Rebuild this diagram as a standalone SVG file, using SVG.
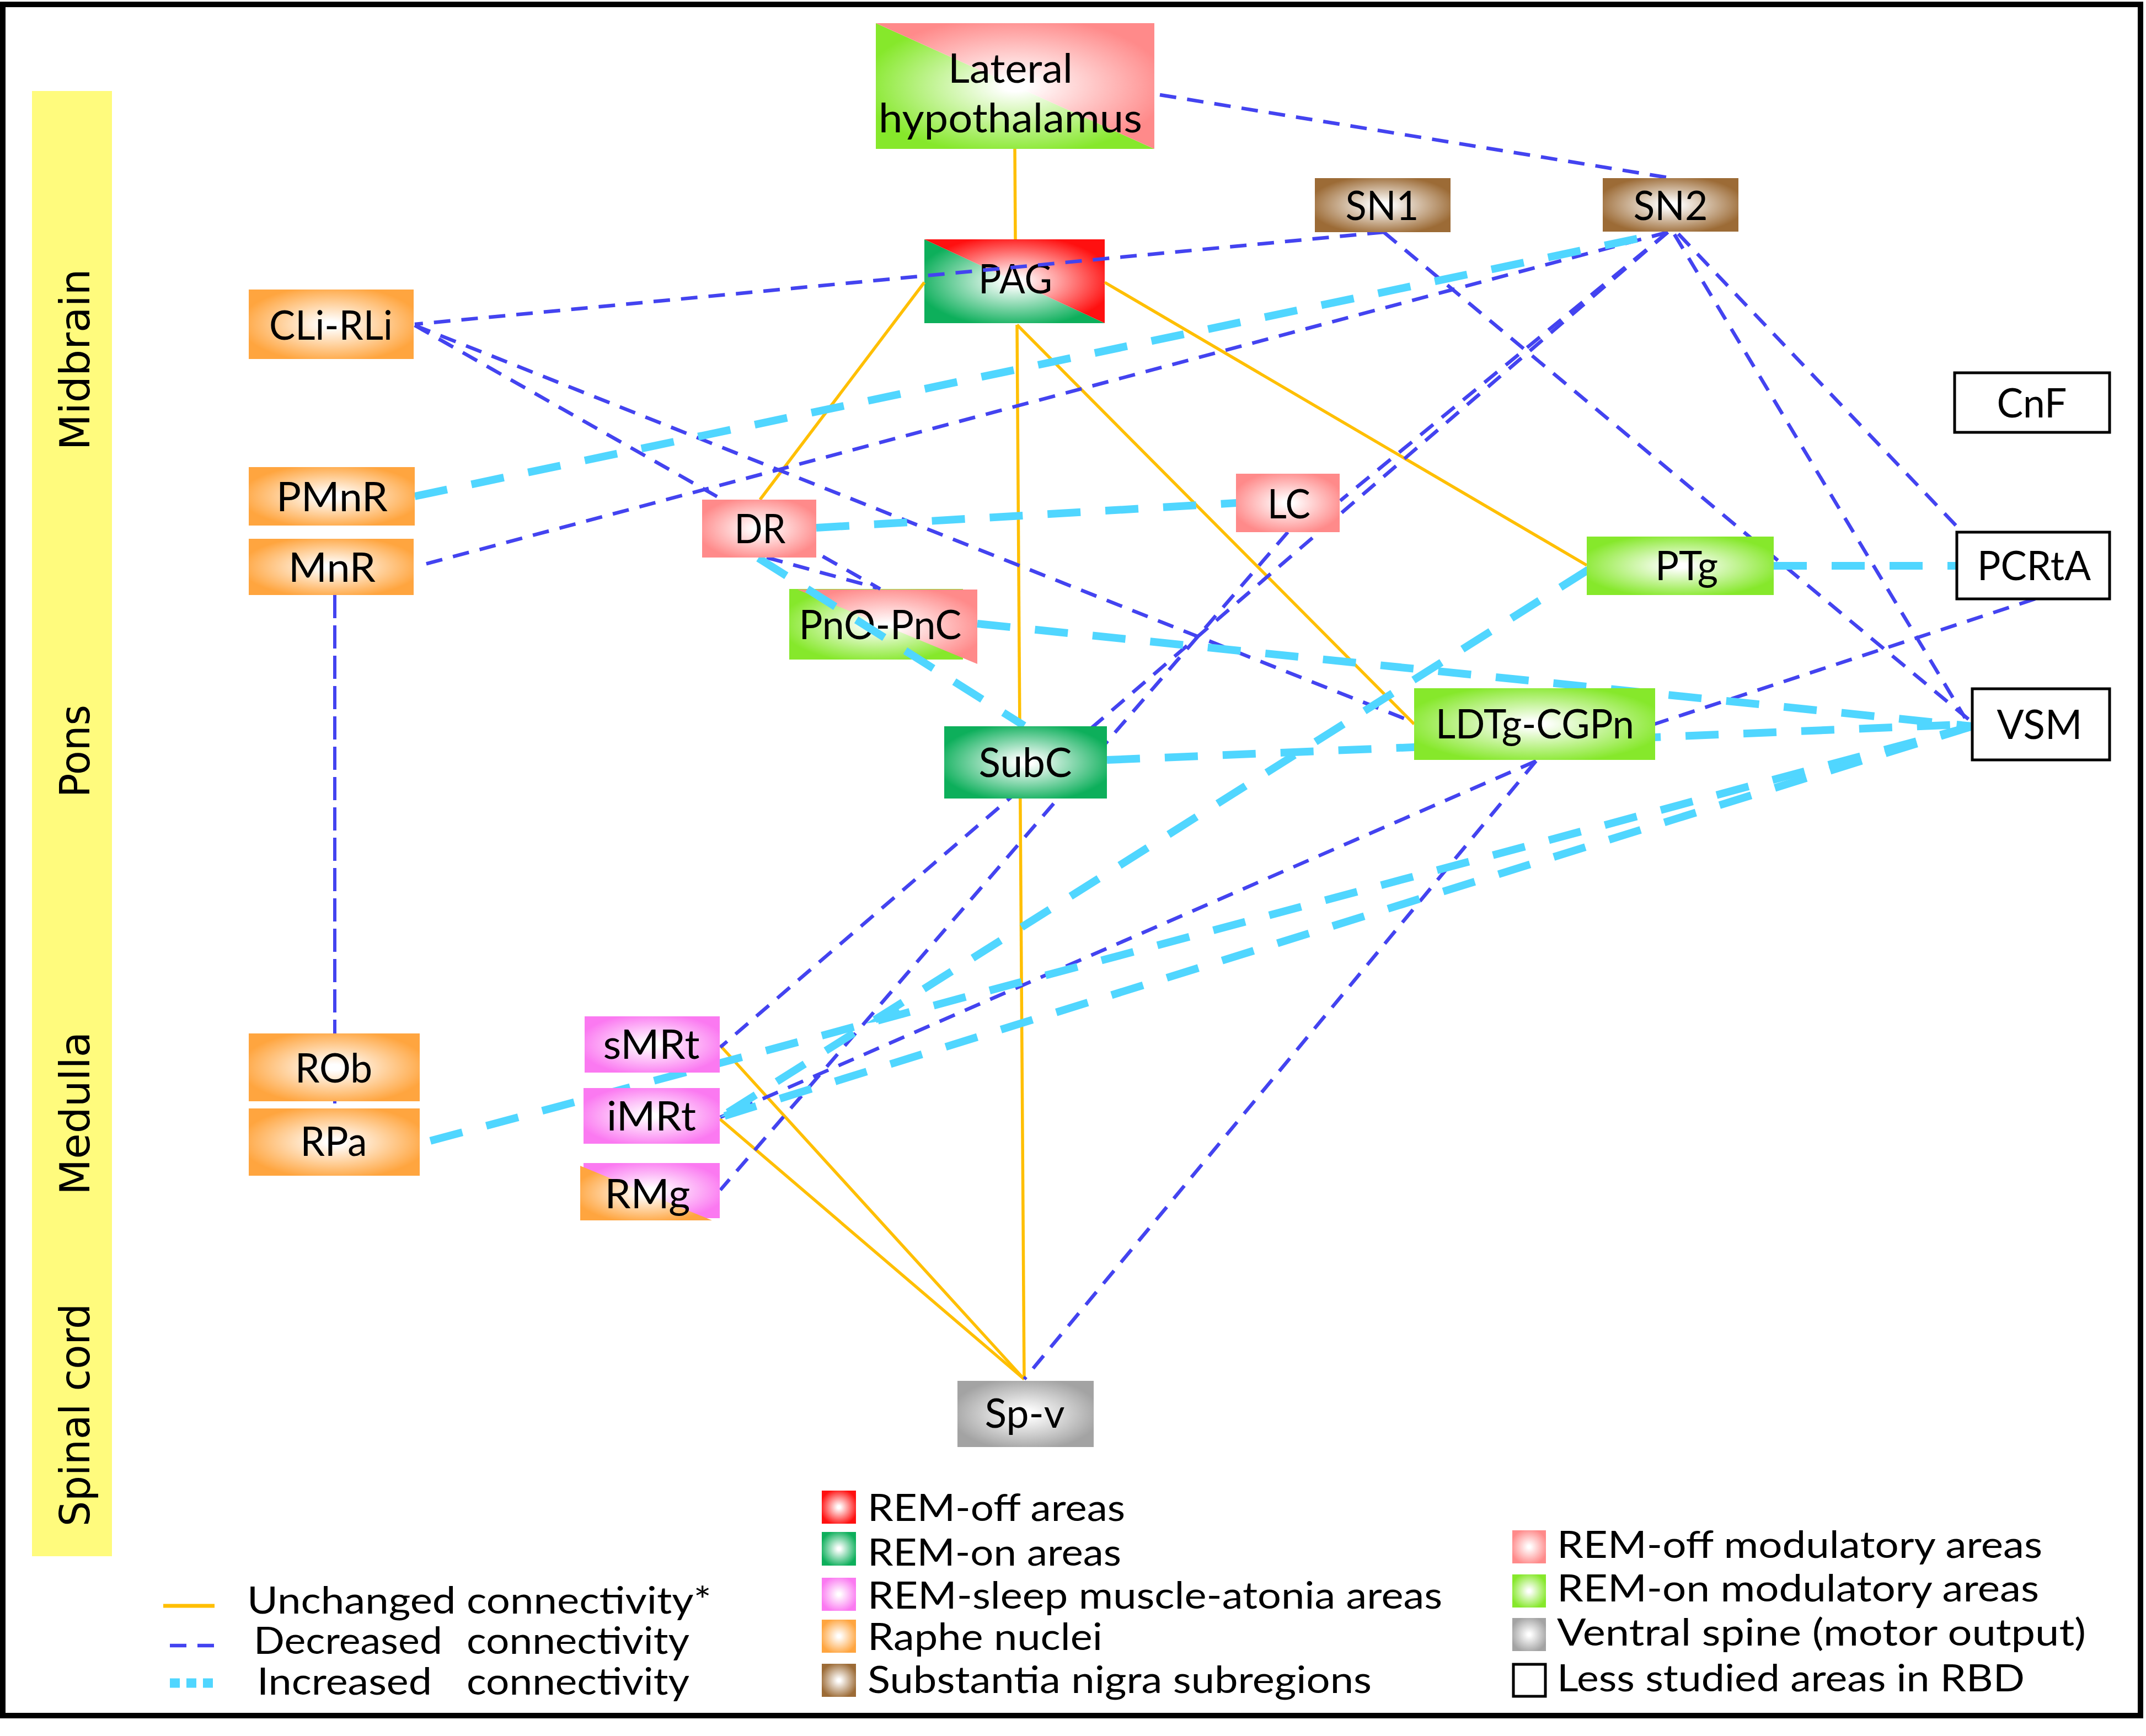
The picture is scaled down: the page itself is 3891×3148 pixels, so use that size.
<svg xmlns="http://www.w3.org/2000/svg" width="3891" height="3148" viewBox="0 0 3891 3148">
<style>
.lbl{font-family:Lato,'Open Sans','Liberation Sans',sans-serif;font-size:73px;fill:#000;text-anchor:middle}
.leg{font-family:Lato,'Open Sans','Liberation Sans',sans-serif;font-size:68px;fill:#000}
.reg{font-family:'DejaVu Sans','Liberation Sans',sans-serif;font-size:75px;fill:#000;text-anchor:middle}
.o{stroke:#FFBF00;stroke-width:5.5;fill:none}
.b{stroke:#4343F0;stroke-width:6.5;stroke-dasharray:30 20;fill:none}
.bl{stroke:#4343F0;stroke-width:6;stroke-dasharray:42 13;fill:none}
.c{stroke:#50D6FF;stroke-width:14;stroke-dasharray:60 45;fill:none}
.wb{fill:#fff;stroke:#000;stroke-width:5}
</style>
<defs>
<radialGradient id="gOr" cx="0.5" cy="0.5" r="0.55"><stop offset="0.08" stop-color="#fff"/><stop offset="1" stop-color="#FFA53F"/></radialGradient>
<radialGradient id="gPink" cx="0.5" cy="0.5" r="0.55"><stop offset="0.08" stop-color="#fff"/><stop offset="1" stop-color="#FF8A8A"/></radialGradient>
<radialGradient id="gRed" cx="0.5" cy="0.5" r="0.55"><stop offset="0.08" stop-color="#fff"/><stop offset="1" stop-color="#FF1010"/></radialGradient>
<radialGradient id="gGrn" cx="0.5" cy="0.5" r="0.55"><stop offset="0.08" stop-color="#fff"/><stop offset="1" stop-color="#0DAF5B"/></radialGradient>
<radialGradient id="gLime" cx="0.5" cy="0.5" r="0.55"><stop offset="0.08" stop-color="#fff"/><stop offset="1" stop-color="#86E82B"/></radialGradient>
<radialGradient id="gMag" cx="0.5" cy="0.5" r="0.55"><stop offset="0.08" stop-color="#fff"/><stop offset="1" stop-color="#FB79F1"/></radialGradient>
<radialGradient id="gBrn" cx="0.5" cy="0.5" r="0.55"><stop offset="0.08" stop-color="#fff"/><stop offset="1" stop-color="#9C6B36"/></radialGradient>
<radialGradient id="gGry" cx="0.5" cy="0.5" r="0.55"><stop offset="0.08" stop-color="#fff"/><stop offset="1" stop-color="#A3A3A3"/></radialGradient>
</defs>
<rect x="0" y="0" width="3891" height="3148" fill="#fff"/>
<rect x="5" y="8" width="3876" height="3103" fill="none" stroke="#000" stroke-width="10"/>

<g id="regions">
<rect x="58" y="165" width="145" height="2657" fill="#FFFB7D"/>
<text class="reg" transform="translate(162,652) rotate(-90)" textLength="329" lengthAdjust="spacingAndGlyphs">Midbrain</text>
<text class="reg" transform="translate(162,1362) rotate(-90)" textLength="168" lengthAdjust="spacingAndGlyphs">Pons</text>
<text class="reg" transform="translate(162,2019) rotate(-90)" textLength="296" lengthAdjust="spacingAndGlyphs">Medulla</text>
<text class="reg" transform="translate(162,2566) rotate(-90)" textLength="404" lengthAdjust="spacingAndGlyphs">Spinal cord</text>
</g>

<g id="node-lh">
<polygon points="1588,42 1588,270 2093,270" fill="url(#gLime)"/>
<polygon points="1588,42 2093,42 2093,270" fill="url(#gPink)"/>
<text class="lbl" x="1832" y="150" textLength="226" lengthAdjust="spacingAndGlyphs">Lateral</text>
<text class="lbl" x="1832" y="240" textLength="478" lengthAdjust="spacingAndGlyphs">hypothalamus</text>
</g>
<g id="node-pag">
<polygon points="1676,434 1676,586 2003,586" fill="url(#gGrn)"/>
<polygon points="1676,434 2003,434 2003,586" fill="url(#gRed)"/>
<text class="lbl" x="1841" y="532" textLength="134" lengthAdjust="spacingAndGlyphs">PAG</text>
</g>
<g id="node-pno-pnc">
<rect x="1431" y="1068" width="315" height="128" fill="url(#gLime)"/>
<polygon points="1446,1069 1772,1069 1772,1204" fill="url(#gPink)"/>
<text class="lbl" x="1596" y="1159" textLength="295" lengthAdjust="spacingAndGlyphs">PnO-PnC</text>
</g>

<g id="connectors">
<line class="o" x1="1840" y1="270" x2="1841" y2="434"/>
<line class="o" x1="1676" y1="512" x2="1378" y2="906"/>
<line class="o" x1="1844" y1="589" x2="1857" y2="2501"/>
<line class="o" x1="1844" y1="589" x2="2564" y2="1313"/>
<line class="o" x1="2003" y1="512" x2="2877" y2="1025"/>
<line class="o" x1="1305" y1="1895" x2="1857" y2="2501"/>
<line class="o" x1="1305" y1="2029" x2="1857" y2="2501"/>

<line class="b" x1="2103" y1="172" x2="3024" y2="322"/>
<line class="b" x1="2509" y1="421" x2="752" y2="588"/>
<line class="b" x1="2509" y1="421" x2="3576" y2="1310"/>
<line class="b" x1="3024" y1="421" x2="763" y2="1025"/>
<line class="b" x1="3024" y1="421" x2="2430" y2="908"/>
<line class="b" x1="3024" y1="421" x2="1306" y2="1899"/>
<line class="b" x1="3036" y1="425" x2="3563" y2="1302"/>
<line class="b" x1="3043" y1="424" x2="3555" y2="962"/>
<line class="b" x1="752" y1="590" x2="1596" y2="1068"/>
<line class="b" x1="752" y1="590" x2="2564" y2="1310"/>
<line class="b" x1="1390" y1="1011" x2="1590" y2="1066"/>
<line class="bl" x1="607" y1="1079" x2="607" y2="2010"/>
<line class="b" x1="2335" y1="965" x2="1306" y2="2158"/>
<line class="b" x1="2785" y1="1380" x2="1306" y2="2026"/>
<line class="b" x1="2785" y1="1380" x2="1857" y2="2501"/>
<line class="b" x1="3690" y1="1086" x2="3000" y2="1313"/>

<line class="c" x1="752" y1="900" x2="3010" y2="424"/>
<line class="c" x1="1480" y1="957" x2="2242" y2="912"/>
<line class="c" x1="1375" y1="1012" x2="1857" y2="1316"/>
<line class="c" x1="1772" y1="1131" x2="3576" y2="1317"/>
<line class="c" x1="3216" y1="1026" x2="3548" y2="1026"/>
<line class="c" x1="2880" y1="1033" x2="1306" y2="2026"/>
<line class="c" x1="2007" y1="1378" x2="3576" y2="1313"/>
<line class="c" x1="3576" y1="1317" x2="761" y2="2074"/>
<line class="c" x1="3576" y1="1317" x2="1306" y2="2026"/>
<polygon points="1305,2026 1356,1987 1364,2014" fill="#50D6FF"/>
<polygon points="1570,1856 1624,1822 1639,1845" fill="#50D6FF"/>
</g>

<g id="node-sn1"><rect x="2384" y="323" width="246" height="98" fill="url(#gBrn)"/><text class="lbl" x="2506" y="399" textLength="133" lengthAdjust="spacingAndGlyphs">SN1</text></g>
<g id="node-sn2"><rect x="2906" y="323" width="246" height="97" fill="url(#gBrn)"/><text class="lbl" x="3029" y="399" textLength="135" lengthAdjust="spacingAndGlyphs">SN2</text></g>
<g id="node-cli-rli"><rect x="451" y="525" width="299" height="126" fill="url(#gOr)"/><text class="lbl" x="600" y="616" textLength="224" lengthAdjust="spacingAndGlyphs">CLi-RLi</text></g>
<g id="node-pmnr"><rect x="451" y="847" width="301" height="106" fill="url(#gOr)"/><text class="lbl" x="602" y="927" textLength="202" lengthAdjust="spacingAndGlyphs">PMnR</text></g>
<g id="node-mnr"><rect x="451" y="977" width="299" height="102" fill="url(#gOr)"/><text class="lbl" x="602" y="1055" textLength="158" lengthAdjust="spacingAndGlyphs">MnR</text></g>
<g id="node-dr"><rect x="1273" y="906" width="207" height="105" fill="url(#gPink)"/><text class="lbl" x="1378" y="985" textLength="93" lengthAdjust="spacingAndGlyphs">DR</text></g>
<g id="node-lc"><rect x="2241" y="859" width="188" height="106" fill="url(#gPink)"/><text class="lbl" x="2337" y="940" textLength="78" lengthAdjust="spacingAndGlyphs">LC</text></g>
<g id="node-cnf"><rect class="wb" x="3544" y="676" width="281" height="108"/><text class="lbl" x="3684" y="757" textLength="127" lengthAdjust="spacingAndGlyphs">CnF</text></g>
<g id="node-ptg"><rect x="2877" y="973" width="339" height="106" fill="url(#gLime)"/><text class="lbl" x="3058" y="1052" textLength="114" lengthAdjust="spacingAndGlyphs">PTg</text></g>
<g id="node-pcrta"><rect class="wb" x="3548" y="965" width="277" height="121"/><text class="lbl" x="3688" y="1052" textLength="206" lengthAdjust="spacingAndGlyphs">PCRtA</text></g>
<g id="node-subc"><rect x="1712" y="1317" width="295" height="131" fill="url(#gGrn)"/><text class="lbl" x="1859" y="1409" textLength="169" lengthAdjust="spacingAndGlyphs">SubC</text></g>
<g id="node-ldtg-cgpn"><rect x="2564" y="1248" width="437" height="130" fill="url(#gLime)"/><text class="lbl" x="2783" y="1339" textLength="360" lengthAdjust="spacingAndGlyphs">LDTg-CGPn</text></g>
<g id="node-vsm"><rect class="wb" x="3576" y="1249" width="249" height="129"/><text class="lbl" x="3698" y="1340" textLength="155" lengthAdjust="spacingAndGlyphs">VSM</text></g>
<g id="node-rob"><rect x="451" y="1874" width="310" height="123" fill="url(#gOr)"/><text class="lbl" x="605" y="1963" textLength="140" lengthAdjust="spacingAndGlyphs">ROb</text></g>
<g id="node-rpa"><rect x="451" y="2010" width="310" height="122" fill="url(#gOr)"/><text class="lbl" x="605" y="2096" textLength="121" lengthAdjust="spacingAndGlyphs">RPa</text></g>
<g id="node-smrt"><rect x="1060" y="1843" width="245" height="102" fill="url(#gMag)"/><text class="lbl" x="1181" y="1920" textLength="175" lengthAdjust="spacingAndGlyphs">sMRt</text></g>
<g id="node-imrt"><rect x="1058" y="1973" width="247" height="101" fill="url(#gMag)"/><text class="lbl" x="1181" y="2050" textLength="162" lengthAdjust="spacingAndGlyphs">iMRt</text></g>
<g id="node-rmg">
<rect x="1058" y="2109" width="247" height="100" fill="url(#gMag)"/>
<polygon points="1052,2114 1052,2213 1291,2213" fill="url(#gOr)"/>
<text class="lbl" x="1174" y="2191" textLength="155" lengthAdjust="spacingAndGlyphs">RMg</text>
</g>
<g id="node-sp-v"><rect x="1736" y="2504" width="247" height="120" fill="url(#gGry)"/><text class="lbl" x="1858" y="2589" textLength="145" lengthAdjust="spacingAndGlyphs">Sp-v</text></g>

<g id="legend-lines">
<line x1="296" y1="2912" x2="389" y2="2912" stroke="#FFBF00" stroke-width="7"/>
<line x1="308" y1="2984" x2="389" y2="2984" stroke="#4343F0" stroke-width="6.5" stroke-dasharray="30 20"/>
<line x1="308" y1="3052" x2="386" y2="3052" stroke="#50D6FF" stroke-width="17" stroke-dasharray="18 12"/>
<text class="leg" x="448" y="2926" textLength="842" lengthAdjust="spacingAndGlyphs">Unchanged connectivity*</text>
<text class="leg" y="2999"><tspan x="460" textLength="342" lengthAdjust="spacingAndGlyphs">Decreased</tspan> <tspan x="846" textLength="404" lengthAdjust="spacingAndGlyphs">connectivity</tspan></text>
<text class="leg" y="3073"><tspan x="466" textLength="317" lengthAdjust="spacingAndGlyphs">Increased</tspan> <tspan x="846" textLength="404" lengthAdjust="spacingAndGlyphs">connectivity</tspan></text>
</g>

<g id="legend-areas">
<rect x="1490" y="2703" width="62" height="60" fill="url(#gRed)"/>
<rect x="1490" y="2778" width="62" height="61" fill="url(#gGrn)"/>
<rect x="1490" y="2861" width="62" height="60" fill="url(#gMag)"/>
<rect x="1490" y="2937" width="62" height="60" fill="url(#gOr)"/>
<rect x="1490" y="3017" width="62" height="60" fill="url(#gBrn)"/>
<text class="leg" x="1573" y="2758" textLength="467" lengthAdjust="spacingAndGlyphs">REM-off areas</text>
<text class="leg" x="1573" y="2839" textLength="460" lengthAdjust="spacingAndGlyphs">REM-on areas</text>
<text class="leg" x="1573" y="2917" textLength="1042" lengthAdjust="spacingAndGlyphs">REM-sleep muscle-atonia areas</text>
<text class="leg" x="1573" y="2992" textLength="426" lengthAdjust="spacingAndGlyphs">Raphe nuclei</text>
<text class="leg" x="1573" y="3070" textLength="914" lengthAdjust="spacingAndGlyphs">Substantia nigra subregions</text>
</g>

<g id="legend-modulatory">
<rect x="2742" y="2775" width="61" height="60" fill="url(#gPink)"/>
<rect x="2742" y="2855" width="61" height="60" fill="url(#gLime)"/>
<rect x="2742" y="2934" width="61" height="60" fill="url(#gGry)"/>
<rect class="wb" x="2744" y="3018" width="58" height="58"/>
<text class="leg" x="2823" y="2825" textLength="880" lengthAdjust="spacingAndGlyphs">REM-off modulatory areas</text>
<text class="leg" x="2823" y="2904" textLength="874" lengthAdjust="spacingAndGlyphs">REM-on modulatory areas</text>
<text class="leg" x="2823" y="2984" textLength="959" lengthAdjust="spacingAndGlyphs">Ventral spine (motor output)</text>
<text class="leg" x="2823" y="3067" textLength="848" lengthAdjust="spacingAndGlyphs">Less studied areas in RBD</text>
</g>
</svg>
